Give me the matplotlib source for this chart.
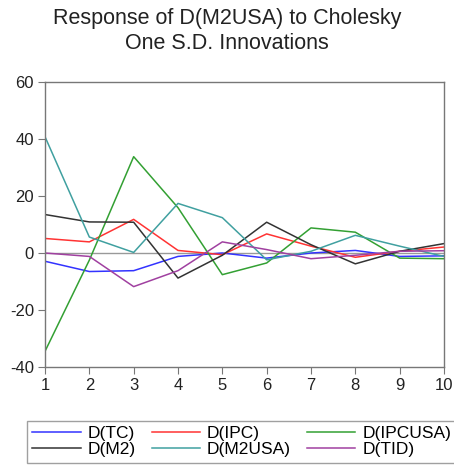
import matplotlib
matplotlib.use("Agg")
import matplotlib.pyplot as plt

plt.rcParams['font.family'] = ['Liberation Sans', 'DejaVu Sans']
plt.rcParams['axes.unicode_minus'] = False

periods = [1, 2, 3, 4, 5, 6, 7, 8, 9, 10]
d_tc = [-2.9, -6.5, -6.2, -1.2, 0.0, -1.8, 0.0, 0.9, -1.2, -1.0]
d_ipc = [5.1, 3.9, 11.8, 0.9, -0.6, 6.7, 2.4, -1.5, 0.6, 2.1]
d_ipcusa = [-34.5, -2.5, 33.8, 15.9, -7.6, -3.5, 8.8, 7.3, -1.8, -2.0]
d_m2 = [13.5, 10.9, 10.8, -8.8, -0.8, 10.8, 2.9, -3.8, 0.6, 3.3]
d_m2usa = [40.8, 5.6, 0.2, 17.4, 12.4, -2.4, 0.6, 6.2, 2.4, -1.2]
d_tid = [0.0, -1.2, -11.8, -6.2, 3.9, 1.2, -2.0, -0.8, 0.6, 0.8]

series = [
    ("D(TC)", d_tc, "#3333ff"),
    ("D(IPC)", d_ipc, "#ff3333"),
    ("D(IPCUSA)", d_ipcusa, "#33a033"),
    ("D(M2)", d_m2, "#333333"),
    ("D(M2USA)", d_m2usa, "#40a0a0"),
    ("D(TID)", d_tid, "#a040a0"),
]

fig = plt.figure(figsize=(4.54, 4.67), dpi=100)
ax = fig.add_axes([45 / 454, 1 - 367 / 467, (444 - 45) / 454, (367 - 82) / 467])

ax.axhline(0, color="#999999", lw=1.0, zorder=1)
lines = {}
for name, vals, col in series:
    lines[name], = ax.plot(periods, vals, color=col, lw=1.1, label=name, zorder=2)

ax.set_xlim(1, 10)
ax.set_ylim(-40, 60)
ax.set_xticks(periods)
ax.set_yticks([-40, -20, 0, 20, 40, 60])
for sp in ax.spines.values():
    sp.set_color("#777777")
    sp.set_linewidth(1.0)
ax.tick_params(axis="both", direction="out", length=5, color="#777777",
               labelsize=12, labelcolor="#222222", pad=3)

fig.text(0.5, 1 - 31 / 467, "Response of D(M2USA) to Cholesky\nOne S.D. Innovations",
         ha="center", va="center", fontsize=15.5, color="#222222", linespacing=1.3)

# legend entries fill row by row (three per row)
order = ["D(TC)", "D(M2)", "D(IPC)", "D(M2USA)", "D(IPCUSA)", "D(TID)"]
leg = fig.legend([lines[n] for n in order], order, loc="upper left",
                 bbox_to_anchor=(27 / 454, 1 - 421 / 467), ncol=3,
                 frameon=True, fancybox=False, fontsize=12.5,
                 handlelength=2.8, handletextpad=0.4, columnspacing=0.9,
                 labelspacing=0.05, borderpad=0.3, borderaxespad=0)
leg.get_frame().set_edgecolor("#888888")
leg.get_frame().set_linewidth(1.0)

fig.savefig("out.png", dpi=100)
